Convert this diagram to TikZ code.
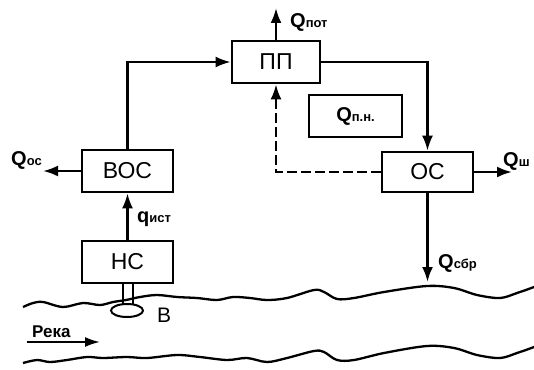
\documentclass[tikz,border=0pt]{standalone}
\usepackage{fontspec}
\setmainfont{Liberation Sans}
\usetikzlibrary{arrows.meta,shapes.geometric}
\newcommand\Qsub[2]{#1{\fontsize{13}{13}\selectfont #2}}
\begin{document}
\begin{tikzpicture}[x=1pt,y=-1pt,
  box/.style={draw,line width=2.6pt,inner sep=0pt,font=\fontsize{23}{23}\selectfont},
  flow/.style={line width=2.5pt,-{Latex[length=15pt,width=11pt]}},
  fb/.style={line width=2.5pt,dash pattern=on 10pt off 4pt,-{Latex[length=15pt,width=11pt]}},
  lbl/.style={inner sep=0pt,anchor=base west,font=\fontsize{20}{20}\selectfont\bfseries},
  wave/.style={line width=2.3pt,smooth,tension=0.55}]
\clip (0,0) rectangle (534,369);
\useasboundingbox (0,0) rectangle (534,369);
% boxes
\node[box,minimum width=88pt,minimum height=42pt] (pp) at (276,62) {ПП};
\node[box,minimum width=93pt,minimum height=42pt] (qpn) at (355.5,116) {\bfseries\fontsize{20}{20}\selectfont\Qsub{Q}{п.н.}};
\node[box,minimum width=91pt,minimum height=42pt] (boc) at (127.5,171) {ВОС};
\node[box,minimum width=91pt,minimum height=40pt] (oc) at (427.5,172) {ОС};
\node[box,minimum width=91pt,minimum height=42pt] (hc) at (127.5,262) {НС};
% free ends
\coordinate (qpot) at (276,8);
\coordinate (qos) at (43,171);
\coordinate (qsh) at (512,172);
\coordinate (qsbr) at (427.5,282);
% connectors
\draw[flow] (boc.north) |- (pp.west);
\draw[flow] (pp.east) -| (oc.north);
\draw[flow] (hc.north) -- (boc.south);
\draw[flow] (pp.north) -- (qpot);
\draw[flow] (boc.west) -- (qos);
\draw[flow] (oc.east) -- (qsh);
\draw[flow] (oc.south) -- (qsbr);
\draw[fb] (oc.west) -| (pp.south);
% labels
\node[lbl] (lpot) at (290,28) {\Qsub{Q}{пот}};
\node[lbl] (los) at (11,165) {\Qsub{Q}{ос}};
\node[lbl] (lsh) at (503,166) {\Qsub{Q}{ш}};
\node[lbl] (list) at (137,222) {\Qsub{q}{ист}};
\node[lbl] (lsbr) at (438,268) {\Qsub{Q}{сбр}};
\node[lbl,font=\fontsize{21}{21}\selectfont] (lb) at (157,322) {В};
\node[lbl,font=\fontsize{17}{17}\selectfont\bfseries] (lreka) at (32,337) {Река};
% river banks
\draw[wave] plot coordinates {(23,307) (33,303) (43,302) (63,307) (83,303) (100,305) (113,302) (126,300) (140,297) (157,295) (177,297) (197,298) (217,300) (233,297) (250,298) (267,300) (287,298) (314,290) (324,292) (337,299) (354,298) (384,292) (427,286) (454,288) (477,295) (500,298) (517,293) (534,287) (542,283)};
\draw[wave] plot coordinates {(23,363) (37,360) (50,362) (67,360) (87,357) (103,358) (127,357) (147,358) (177,355) (200,357) (227,360) (247,358) (267,362) (287,358) (314,351) (324,352) (337,360) (354,360) (384,353) (427,346) (454,348) (477,355) (500,358) (517,353) (534,347) (542,343)};
% river flow arrow
\coordinate (rs) at (27,342);
\coordinate (re) at (100,342);
\draw[line width=2pt,-{Latex[length=15pt,width=10pt]}] (rs) -- (re);
% intake
\draw[line width=2pt] ([xshift=-5pt]hc.south) -- ++(0,20);
\draw[line width=2pt] ([xshift=5pt]hc.south) -- ++(0,20);
\node[draw,ellipse,line width=2pt,minimum width=32pt,minimum height=13pt,inner sep=0pt,fill=white] (intake) at (127,310.5) {};
\end{tikzpicture}
\end{document}
